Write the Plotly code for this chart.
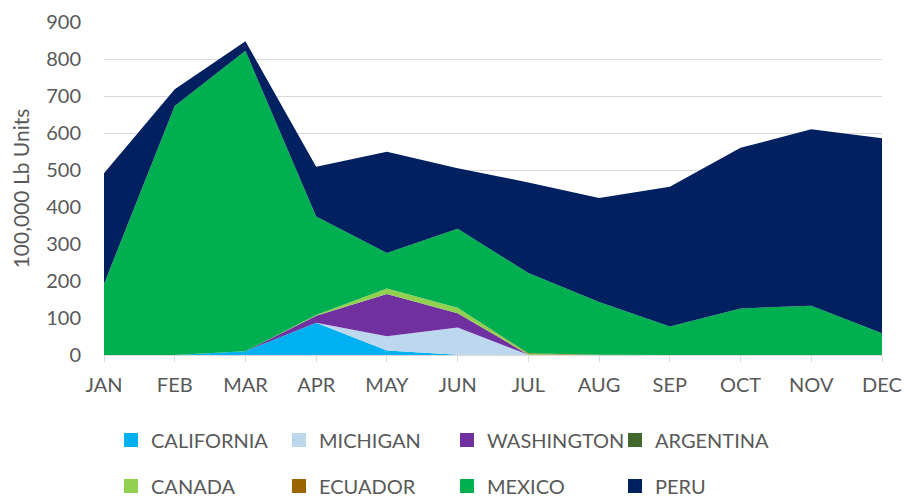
import plotly.graph_objects as go

months = ["JAN", "FEB", "MAR", "APR", "MAY", "JUN", "JUL", "AUG", "SEP", "OCT", "NOV", "DEC"]

california = [0, 0, 10, 87, 12, 1, 0, 0, 0, 0, 0, 0]
michigan = [0, 0, 0, 0, 39, 73, 0.5, 0, 0, 0, 0, 0]
washington = [0, 0, 0, 19, 114, 39, 0.5, 0, 0, 0, 0, 0]
argentina = [0, 0, 0, 0, 0, 0, 0, 0, 0, 0, 0, 0]
canada = [0, 0, 0, 2, 15, 15, 2, 0, 0, 0, 0, 0]
ecuador = [0, 0, 0, 0, 0, 0, 1.5, 0.5, 0, 0, 0, 0]
mexico = [192, 673, 812, 266, 96, 213, 217, 143, 77, 126, 133, 59]
peru = [299, 45, 26, 135, 273, 164, 245, 281, 378, 434, 477, 527]

series_names = ["CALIFORNIA", "MICHIGAN", "WASHINGTON", "ARGENTINA",
                "CANADA", "ECUADOR", "MEXICO", "PERU"]
series_values = [california, michigan, washington, argentina,
                 canada, ecuador, mexico, peru]
series_colors = ["#00B0F0", "#BDD7EE", "#7030A0", "#43682B",
                 "#92D050", "#9C6500", "#00B050", "#002060"]

FONT = "Lato"
GRAY = "#595959"

W, H = 904, 498

fig = go.Figure()
for name, vals, color in zip(series_names, series_values, series_colors):
    fig.add_trace(go.Scatter(
        x=months, y=vals, name=name, mode="lines",
        stackgroup="one", line=dict(width=0, color=color),
        fillcolor=color, showlegend=False, legendgroup=name,
    ))

# legend entries (square swatches)
for i, (name, color) in enumerate(zip(series_names, series_colors)):
    fig.add_trace(go.Scatter(
        x=[None], y=[None], name=name, mode="markers",
        marker=dict(symbol="square", size=14, color=color),
        legendgroup=name, showlegend=True,
        legend="legend" if i < 4 else "legend2",
    ))

legend_common = dict(
    orientation="h", xanchor="left", yanchor="middle",
    xref="container", yref="container",
    font=dict(family=FONT, size=20, color=GRAY),
    entrywidth=123, entrywidthmode="pixels", itemwidth=30,
    bgcolor="rgba(0,0,0,0)", traceorder="normal",
)

fig.update_layout(
    width=W, height=H,
    margin=dict(l=104, r=22, t=22, b=143),
    plot_bgcolor="white", paper_bgcolor="white",
    font=dict(family=FONT, size=20, color=GRAY),
    showlegend=True,
    legend=dict(x=111 / W, y=1 - 440 / H, **legend_common),
    legend2=dict(x=111 / W, y=1 - 486 / H, **legend_common),
    xaxis=dict(
        type="category", range=[0, 11], showgrid=False, automargin=False,
        showline=True, linecolor="#D9D9D9", linewidth=1,
        ticks="outside", ticklen=6, tickcolor="#D9D9D9",
        tickfont=dict(family=FONT, size=20, color=GRAY),
        tickson="labels", ticklabelstandoff=6,
    ),
    yaxis=dict(
        range=[0, 900], dtick=100, showgrid=True, gridcolor="#D9D9D9",
        gridwidth=1, zeroline=False, automargin=False,
        tickfont=dict(family=FONT, size=20, color=GRAY),
        ticklabelstandoff=22,
        title=dict(text="100,000 Lb Units", font=dict(family=FONT, size=21, color=GRAY), standoff=10),
    ),
)

fig.write_html(
    "out.html",
    config={"displayModeBar": False},
    post_script="document.body.style.margin='0';document.body.style.overflow='hidden';",
)
